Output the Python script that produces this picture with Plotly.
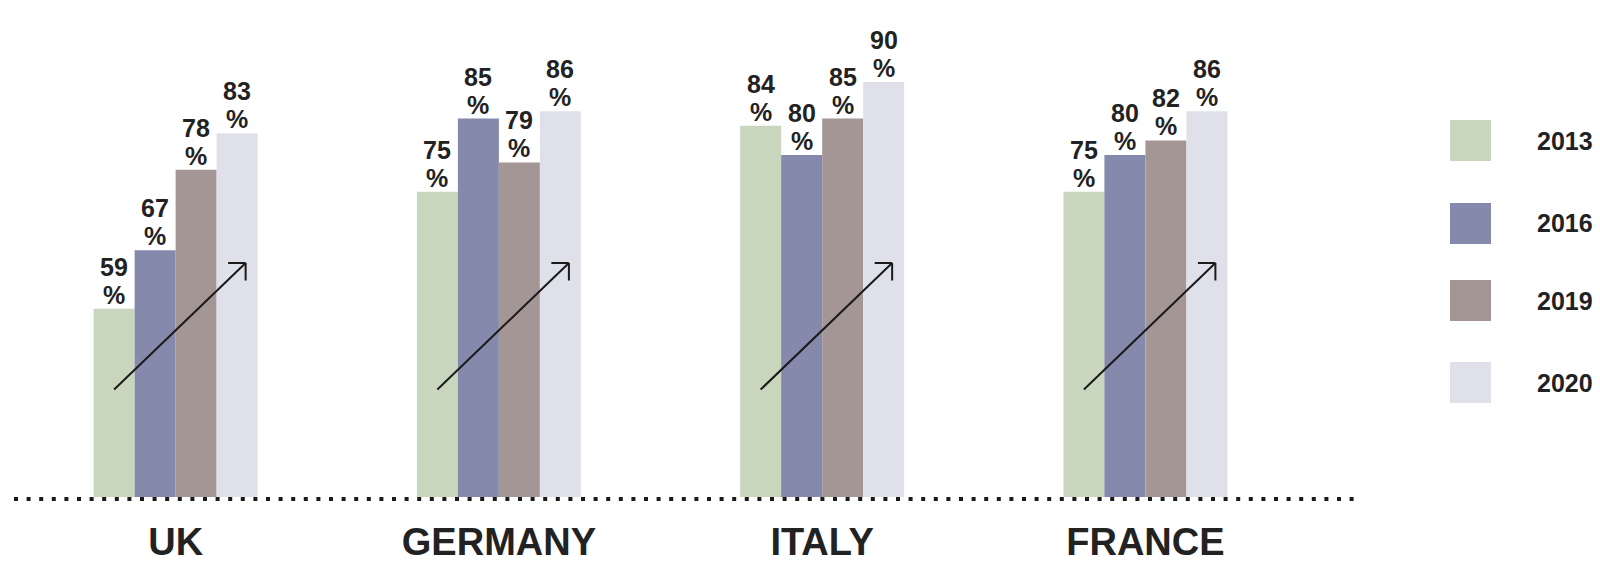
import plotly.graph_objects as go

# ---------------- data ----------------
categories = ["UK", "GERMANY", "ITALY", "FRANCE"]
years = ["2013", "2016", "2019", "2020"]
v2013 = [59, 75, 84, 75]
v2016 = [67, 85, 80, 80]
v2019 = [78, 79, 85, 82]
v2020 = [83, 86, 90, 86]
colors = ["#C8D6BD", "#8589AB", "#A59696", "#E0E0EB"]
series = [v2013, v2016, v2019, v2020]

# ---------------- layout constants ----------------
W, H = 1600, 567
ML, MR, MT, MB = 14, 238, 60, 70
plot_w = W - ML - MR
plot_h = H - MT - MB
XR = [-0.5, 3.67]
YR = [33.25, 93.0]
px_per_x = plot_w / (XR[1] - XR[0])
bar_px = 41
bar_w = bar_px / px_per_x
n = len(years)
TXT = "#222222"
FONT = "Liberation Sans, Arial, Helvetica, sans-serif"


def paper_x(px):
    return (px - ML) / plot_w


def paper_y(py):
    return (H - MB - py) / plot_h


fig = go.Figure()
for name, vals, col in zip(years, series, colors):
    fig.add_trace(go.Bar(
        x=categories, y=vals, name=name,
        marker=dict(color=col, line=dict(width=0)),
        showlegend=False, hoverinfo="x+y+name",
    ))

annotations = []
# value labels: number on top, "%" below
LINE = 28
for i, vals in enumerate(series):
    xs = (i - (n - 1) / 2) * bar_px
    for cat, v in zip(categories, vals):
        for txt, ys in ((str(v), -1 + LINE), ("%", -1)):
            annotations.append(dict(
                x=cat, y=v, xref="x", yref="y", text=txt, showarrow=False,
                xanchor="center", yanchor="bottom", xshift=xs, yshift=ys,
                borderpad=0,
                font=dict(family=FONT, size=25, color=TXT, weight="bold"),
            ))

# trend arrows (decoration), tip position relative to each group
tip_dx, tip_y = 70, 263
tail_dx, tail_y = -63, 391
arm = 19
for cat in categories:
    common = dict(x=cat, y=paper_y(tip_y), xref="x", yref="paper",
                  xshift=tip_dx, text="", showarrow=True, arrowhead=0,
                  arrowwidth=2, arrowcolor="#1a1a1a", axref="pixel",
                  ayref="pixel", standoff=0, startstandoff=0)
    annotations.append(dict(common, ax=tail_dx - tip_dx, ay=tail_y - tip_y))
    annotations.append(dict(common, ax=-arm, ay=0))
    annotations.append(dict(common, ax=0, ay=arm))

# manual legend
legend_centers = [140.5, 223.5, 300.5, 382.5]
sq_x0, sq_x1 = 1450, 1491
shapes = []
for yr, col, cy in zip(years, colors, legend_centers):
    shapes.append(dict(type="rect", xref="paper", yref="paper",
                       x0=paper_x(sq_x0), x1=paper_x(sq_x1),
                       y0=paper_y(cy + 20.5), y1=paper_y(cy - 20.5),
                       fillcolor=col, line=dict(width=0)))
    annotations.append(dict(x=paper_x(1565), y=paper_y(cy), xref="paper",
                            yref="paper", text=yr, showarrow=False,
                            xanchor="center", yanchor="middle",
                            font=dict(family=FONT, size=25, color=TXT,
                                      weight="bold")))

# dotted baseline
shapes.append(dict(type="line", xref="paper", yref="paper",
                   x0=0, x1=1, y0=paper_y(499), y1=paper_y(499),
                   line=dict(color="#1a1a1a", width=4, dash="4px,8.6px")))

fig.update_layout(
    width=W, height=H,
    margin=dict(l=ML, r=MR, t=MT, b=MB, pad=0, autoexpand=False),
    paper_bgcolor="white", plot_bgcolor="white",
    barmode="group", bargap=1 - n * bar_w, bargroupgap=0,
    xaxis=dict(range=XR, showgrid=False, zeroline=False, showline=False,
               ticks="", ticklabelstandoff=19, automargin=False,
               tickfont=dict(family=FONT, size=38, color=TXT, weight="bold")),
    yaxis=dict(range=YR, showgrid=False, zeroline=False, showline=False,
               showticklabels=False, ticks="", automargin=False),
    annotations=annotations, shapes=shapes,
    showlegend=False,
)

fig.write_html("out.html")
